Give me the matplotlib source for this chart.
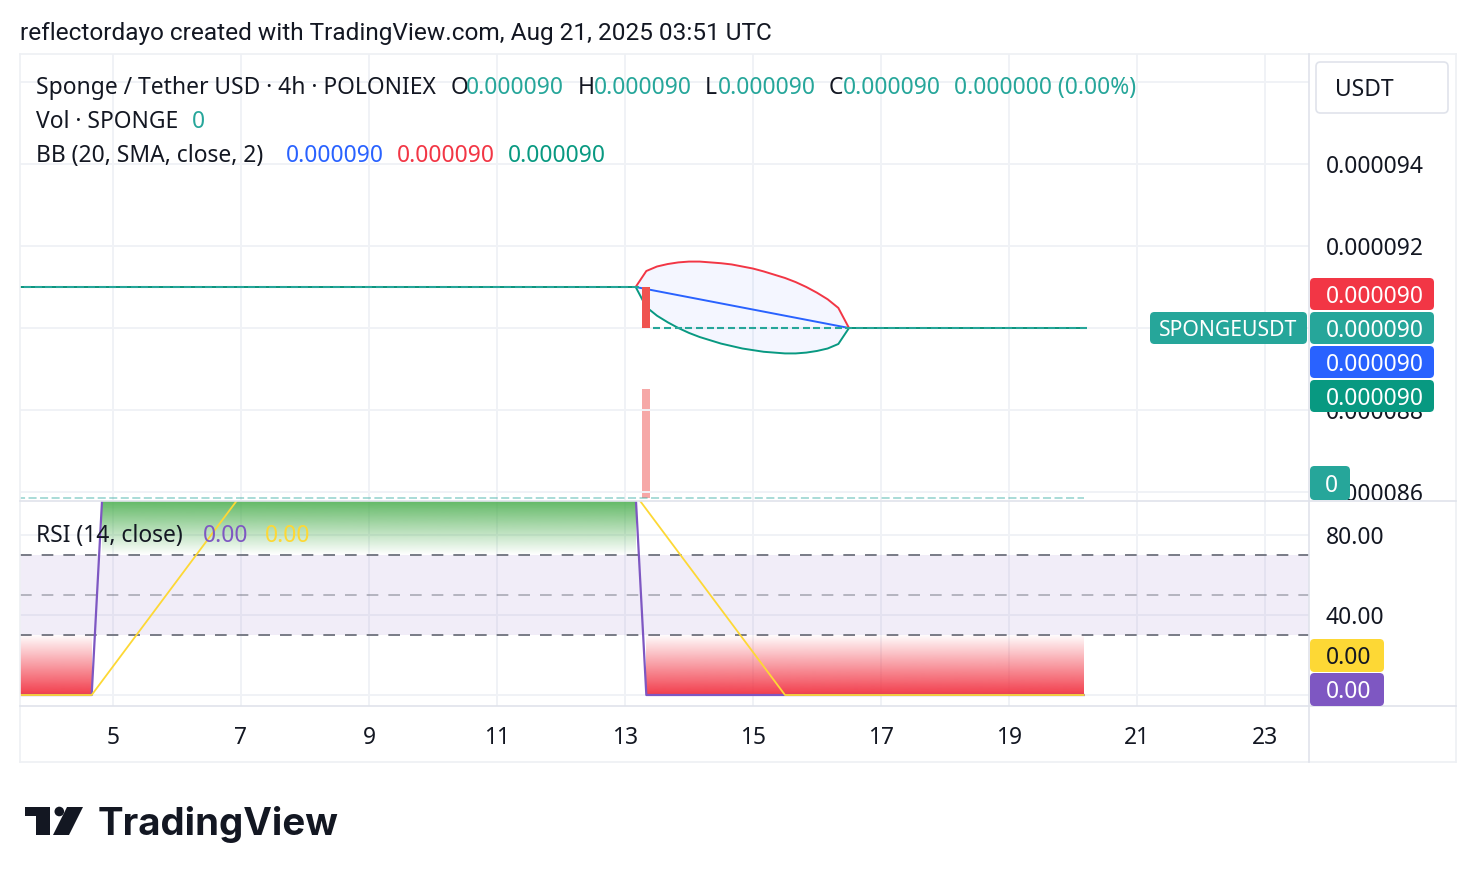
import matplotlib
matplotlib.use("Agg")
import matplotlib.pyplot as plt
import matplotlib.dates as mdates
import matplotlib.patches as mpatches
import matplotlib.transforms as mtransforms
from matplotlib.lines import Line2D
from matplotlib.path import Path
import numpy as np
import pandas as pd

W, H = 1476, 882

# ---- data: SPONGE/USDT, 4h bars, POLONIEX ----
bar_time = pd.date_range("2025-08-03 12:00", periods=101, freq="4h")
open_px = [91.0e-6] * 60 + [90.0e-6] * 41
close_px = [91.0e-6] * 59 + [90.0e-6] * 42
volume = [0] * 59 + [1250000] + [0] * 41

bb_basis = ([91.0e-6] * 59 +
            [90.95e-6, 90.90e-6, 90.85e-6, 90.80e-6, 90.75e-6, 90.70e-6, 90.65e-6,
             90.60e-6, 90.55e-6, 90.50e-6, 90.45e-6, 90.40e-6, 90.35e-6, 90.30e-6,
             90.25e-6, 90.20e-6, 90.15e-6, 90.10e-6, 90.05e-6] +
            [90.0e-6] * 23)
bb_upper = ([91.0e-6] * 59 +
            [91.39e-6, 91.50e-6, 91.56e-6, 91.60e-6, 91.62e-6, 91.62e-6, 91.60e-6,
             91.58e-6, 91.55e-6, 91.50e-6, 91.45e-6, 91.38e-6, 91.30e-6, 91.22e-6,
             91.12e-6, 91.00e-6, 90.86e-6, 90.70e-6, 90.49e-6] +
            [90.0e-6] * 23)
bb_lower = ([91.0e-6] * 59 +
            [90.51e-6, 90.30e-6, 90.14e-6, 90.00e-6, 89.88e-6, 89.78e-6, 89.70e-6,
             89.62e-6, 89.56e-6, 89.50e-6, 89.46e-6, 89.42e-6, 89.40e-6, 89.38e-6,
             89.38e-6, 89.40e-6, 89.44e-6, 89.50e-6, 89.61e-6] +
            [90.0e-6] * 23)

rsi = [0.0] * 8 + [100.0] * 51 + [0.0] * 42
rsi_ma_time = pd.to_datetime(["2025-08-03 12:00", "2025-08-04 16:00", "2025-08-07 00:00",
                              "2025-08-13 04:00", "2025-08-15 12:00", "2025-08-20 04:00"])
rsi_ma = [0, 0, 100, 100, 0, 0]

day_ticks = pd.to_datetime(["2025-08-05", "2025-08-07", "2025-08-09", "2025-08-11", "2025-08-13",
                            "2025-08-15", "2025-08-17", "2025-08-19", "2025-08-21", "2025-08-23"])
day_labels = ["5", "7", "9", "11", "13", "15", "17", "19", "21", "23"]
# gridlines every 0.000002; the 0.000096 and 0.000090 labels sit behind the tags
price_grid = [86e-6, 88e-6, 90e-6, 92e-6, 94e-6, 96e-6]
price_ticks = [86e-6, 88e-6, 92e-6, 94e-6]
price_labels = ["0.000086", "0.000088", "0.000092", "0.000094"]
rsi_grid = [0, 40, 80]
rsi_ticks = [40, 80]
rsi_labels = ["40.00", "80.00"]

# colours
DARK = "#131722"
TEAL = "#26A69A"
RED = "#F23645"
BLUE = "#2962FF"
GREEN = "#089981"
PURPLE = "#7E57C2"
YELLOW = "#FDD835"
GRID = "#F0F2F6"
SEP = "#E0E3EB"
FONT = "Noto Sans"


def fx(x):
    return x / W


def fy(y):
    return 1 - y / H


def rect(x0, y0, x1, y1):
    return [fx(x0), fy(y1), (x1 - x0) / W, (y1 - y0) / H]


fig = plt.figure(figsize=(W / 100, H / 100), dpi=100)
fig.patch.set_facecolor("white")
renderer = fig.canvas.get_renderer()


def fit(s, target, family, weight="normal"):
    t = fig.text(0, 0, s, fontsize=10, family=family, weight=weight)
    w = t.get_window_extent(renderer).width
    t.remove()
    return 10 * target / w


S = fit("0.000090", 97, FONT)

tnum = mdates.date2num(bar_time)
aug1 = mdates.date2num(pd.Timestamp("2025-08-01"))
xlim = (aug1 + 2.547, aug1 + 22.6875)

# ---- panes ----
ax_vol = fig.add_axes(rect(20, 54, 1309, 500))
ax_main = fig.add_axes(rect(20, 54, 1309, 500), sharex=ax_vol)
ax_rsi = fig.add_axes(rect(20, 501, 1309, 706), sharex=ax_vol)
ax_ps = fig.add_axes(rect(1309, 54, 1456, 500))
ax_rs = fig.add_axes(rect(1309, 501, 1456, 706))
ax_vol.set_zorder(0)
ax_main.set_zorder(1)
ax_main.patch.set_visible(False)

p_lo = 90e-6 - 172 / 41 * 1e-6
p_hi = p_lo + 446 / 41 * 1e-6
r_lo, r_hi = -5.5, 97.0

for ax in (ax_vol, ax_main, ax_rsi, ax_ps, ax_rs):
    ax.set_xticks([])
    ax.set_yticks([])
    for sp in ax.spines.values():
        sp.set_visible(False)

# grid
for d in day_ticks:
    ax_vol.axvline(mdates.date2num(d), color=GRID, lw=1.4, zorder=0)
    ax_rsi.axvline(mdates.date2num(d), color=GRID, lw=1.4, zorder=0)
for p in price_grid:
    ax_main.axhline(p, color=GRID, lw=1.4, zorder=0)
for r in rsi_grid:
    ax_rsi.axhline(r, color=GRID, lw=1.4, zorder=0)

# volume overlay
vmax = max(volume)
v_lo = -2 * vmax / 109
ax_vol.set_ylim(v_lo, v_lo + vmax * 446 / 109)
ax_vol.bar(tnum, volume, width=8 / 64, color="#EF5350", alpha=0.5, zorder=2)
ax_vol.plot([tnum[0], tnum[-1]], [0, 0], color=TEAL, alpha=0.5, lw=1.1,
            dashes=(5.8 / 1.1, 2.5 / 1.1), zorder=3)

# bollinger bands
ax_main.fill_between(tnum, bb_lower, bb_upper, color=BLUE, alpha=0.05, lw=0, zorder=1)
ax_main.plot(tnum, bb_basis, color=BLUE, lw=1.4, zorder=2)
ax_main.plot(tnum, bb_upper, color=RED, lw=1.4, zorder=2)
ax_main.plot(tnum, bb_lower, color=GREEN, lw=1.4, zorder=2)

# candles
for t, o, c in zip(tnum, open_px, close_px):
    if o == c:
        ax_main.hlines(c, t - 3.5 / 64, t + 3.5 / 64, color=TEAL, lw=1.5, zorder=3)
    else:
        col = "#EF5350" if c < o else TEAL
        ax_main.bar(t, c - o, bottom=o, width=8 / 64, color=col, zorder=3)
ax_main.set_ylim(p_lo, p_hi)

# ---- RSI pane ----
ax_rsi.axhspan(30, 70, color=PURPLE, alpha=0.1, lw=0, zorder=0)
ax_rsi.axhline(70, color="#787B86", lw=1.4, dashes=(8.4 / 1.4, 7.2 / 1.4), zorder=1)
ax_rsi.axhline(30, color="#787B86", lw=1.4, dashes=(8.4 / 1.4, 7.2 / 1.4), zorder=1)
ax_rsi.axhline(50, color="#787B86", alpha=0.5, lw=1.4, dashes=(8.4 / 1.4, 7.2 / 1.4), zorder=1)

rsi_arr = np.array(rsi)


def gradient_fill(ax, where, base, rgb, v_full, v_clear):
    poly = ax.fill_between(tnum, rsi_arr, base, where=where, facecolor="none",
                           edgecolor="none")
    path = Path.make_compound_path(*poly.get_paths())
    img = np.zeros((256, 1, 4))
    img[:, 0, :3] = rgb
    img[:, 0, 3] = np.linspace(0, 1, 256) * 0.97
    lo, hi = min(v_full, v_clear), max(v_full, v_clear)
    origin = "lower" if v_full > v_clear else "upper"
    im = ax.imshow(img, extent=[tnum[0], tnum[-1], lo, hi], origin=origin,
                   aspect="auto", zorder=2, interpolation="bilinear")
    im.set_clip_path(mpatches.PathPatch(path, transform=ax.transData))


gradient_fill(ax_rsi, rsi_arr >= 70, 70, (76 / 255, 175 / 255, 80 / 255), 100, 70)
gradient_fill(ax_rsi, rsi_arr <= 30, 30, (242 / 255, 54 / 255, 69 / 255), 0, 30)

ax_rsi.plot(tnum, rsi, color=PURPLE, lw=1.6, zorder=3)
ax_rsi.plot(mdates.date2num(rsi_ma_time), rsi_ma, color=YELLOW, lw=1.3, zorder=4)
ax_rsi.set_ylim(r_lo, r_hi)
ax_vol.set_xlim(*xlim)

# ---- price scales ----
ax_ps.set_xlim(1309, 1456)
ax_ps.set_ylim(p_lo, p_hi)
for p, lab in zip(price_ticks, price_labels):
    ax_ps.text(1326, p, lab, color=DARK, fontsize=S, family=FONT, ha="left",
               va="center_baseline", clip_on=True)
ax_rs.set_xlim(1309, 1456)
ax_rs.set_ylim(r_lo, r_hi)
for r, lab in zip(rsi_ticks, rsi_labels):
    ax_rs.text(1326, r, lab, color=DARK, fontsize=S, family=FONT, ha="left",
               va="center_baseline", clip_on=True)

# time axis labels
tx = mtransforms.blended_transform_factory(ax_rsi.transData, fig.transFigure)
for d, lab in zip(day_ticks, day_labels):
    fig.text(mdates.date2num(d), fy(735), lab, transform=tx, color=DARK, fontsize=S,
             family=FONT, ha="center", va="center_baseline",
             weight="bold" if lab == "11" else "normal")


# ---- frame ----
def hline(y, x0, x1, color=SEP, lw=1.2):
    fig.add_artist(Line2D([fx(x0), fx(x1)], [fy(y), fy(y)], transform=fig.transFigure,
                          color=color, lw=lw))


def vline(x, y0, y1, color=SEP, lw=1.2):
    fig.add_artist(Line2D([fx(x), fx(x)], [fy(y0), fy(y1)], transform=fig.transFigure,
                          color=color, lw=lw))


hline(54, 20, 1456, "#EEF0F4")
hline(762, 20, 1456, "#EEF0F4")
vline(20, 54, 762, "#EEF0F4")
vline(1456, 54, 762, "#EEF0F4")
vline(1309, 54, 762)
hline(500.5, 20, 1456)
hline(706, 20, 1456)


# ---- value labels on the scales ----
def label_box(x0, y0, x1, y1, color, text, tcolor, tx_px, ha="left", edge=None, size=None):
    box = mpatches.FancyBboxPatch((fx(x0), fy(y1)), (x1 - x0) / W, (y1 - y0) / H,
                                  boxstyle="round,pad=0,rounding_size=0.003",
                                  mutation_aspect=W / H,
                                  transform=fig.transFigure, facecolor=color,
                                  edgecolor=edge if edge else color,
                                  lw=1.2 if edge else 0, zorder=5)
    fig.add_artist(box)
    fig.text(fx(tx_px), fy((y0 + y1) / 2), text, color=tcolor, fontsize=size or S,
             family=FONT, ha=ha, va="center_baseline", zorder=6)


label_box(1316, 62, 1448, 113, "white", "USDT", DARK, 1335, edge=SEP)
label_box(1310, 278, 1434, 310, RED, "0.000090", "white", 1326)
label_box(1310, 312, 1434, 344, TEAL, "0.000090", "white", 1326)
label_box(1150, 312, 1307, 344, TEAL, "SPONGEUSDT", "white", 1228.5, ha="center",
          size=fit("SPONGEUSDT", 139, FONT))
label_box(1310, 346, 1434, 378, BLUE, "0.000090", "white", 1326)
label_box(1310, 380, 1434, 412, GREEN, "0.000090", "white", 1326)
label_box(1310, 466, 1350, 500, TEAL, "0", "white", 1331, ha="center")
label_box(1310, 639, 1384, 672, YELLOW, "0.00", DARK, 1326)
label_box(1310, 673, 1384, 706, PURPLE, "0.00", "white", 1326)

# ---- legends ----
legend_rows = [
    (85, [(36, "Sponge / Tether USD · 4h · POLONIEX", DARK), (451, "O", DARK),
          (466, "0.000090", TEAL), (578, "H", DARK), (594, "0.000090", TEAL),
          (705, "L", DARK), (718, "0.000090", TEAL), (829, "C", DARK),
          (843, "0.000090", TEAL), (954, "0.000000 (0.00%)", TEAL)]),
    (119, [(36, "Vol · SPONGE", DARK), (192, "0", TEAL)]),
    (153, [(36, "BB (20, SMA, close, 2)", DARK), (286, "0.000090", BLUE),
           (397, "0.000090", RED), (508, "0.000090", GREEN)]),
    (533, [(36, "RSI (14, close)", DARK), (203, "0.00", PURPLE), (265, "0.00", YELLOW)]),
]
for y, parts in legend_rows:
    for x, s, c in parts:
        fig.text(fx(x), fy(y), s, color=c, fontsize=S, family=FONT, ha="left",
                 va="center_baseline", zorder=7)

# header
hs = fit("reflectordayo created with TradingView.com, Aug 21, 2025 03:51 UTC", 749, "Roboto")
fig.text(fx(20), fy(31), "reflectordayo created with TradingView.com, Aug 21, 2025 03:51 UTC",
         color=DARK, fontsize=hs, family="Roboto", ha="left", va="center_baseline")

# TradingView logo
fig.add_artist(mpatches.Polygon([(fx(25), fy(807)), (fx(50), fy(807)), (fx(50), fy(835)),
                                 (fx(36), fy(835)), (fx(36), fy(816)), (fx(25), fy(816))],
                                closed=True, transform=fig.transFigure, color=DARK, lw=0))
fig.add_artist(mpatches.Ellipse((fx(59.3), fy(811.5)), 9.6 / W, 9.6 / H,
                                transform=fig.transFigure, color=DARK, lw=0))
fig.add_artist(mpatches.Polygon([(fx(67), fy(807)), (fx(83), fy(807)), (fx(69), fy(835)),
                                 (fx(53), fy(835))],
                                closed=True, transform=fig.transFigure, color=DARK, lw=0))
ls = fit("TradingView", 241, "Inter", "bold")
fig.text(fx(98), fy(835), "TradingView", color=DARK, fontsize=ls, family="Inter",
         weight="bold", ha="left", va="baseline")

fig.savefig("out.png", dpi=100, facecolor="white")
